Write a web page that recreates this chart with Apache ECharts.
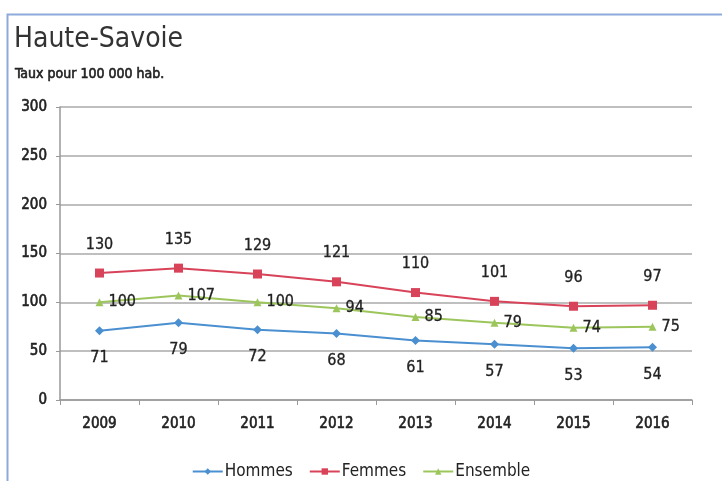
<!DOCTYPE html>
<html>
<head>
<meta charset="utf-8">
<script src="https://cdn.jsdelivr.net/npm/echarts@6/dist/echarts.min.js"></script>
<style>
  html, body { margin: 0; padding: 0; background: #fff; }
  #main { width: 722px; height: 481px; }
</style>
</head>
<body>
<div id="main"></div>
<script>
var years = ["2009", "2010", "2011", "2012", "2013", "2014", "2015", "2016"];
var hommes = [71, 79, 72, 68, 61, 57, 53, 54];
var femmes = [130, 135, 129, 121, 110, 101, 96, 97];
var ensemble = [100, 107, 100, 94, 85, 79, 74, 75];

var font = "'Liberation Sans Narrow', 'DejaVu Sans Condensed', 'Noto Sans', sans-serif";

var myChart = echarts.init(document.getElementById("main"));

// texte un peu gras (pas de gras en Narrow)
var boldish = { textBorderColor: "#222", textBorderWidth: 0.6 };

var option = {
  backgroundColor: "#fff",
  textStyle: { fontFamily: font },
  // cadre bleu du graphique
  graphic: [
    {
      type: "polyline",
      shape: { points: [[7.5, 481], [7.5, 14.5], [722, 14.5]] },
      style: { stroke: "#8eaadb", lineWidth: 2, fill: null },
      silent: true,
    },
  ],
  title: [
    {
      text: "Haute-Savoie",
      left: 14,
      top: 26,
      padding: 0,
      textStyle: { fontFamily: font, fontSize: 28, fontWeight: "normal", color: "#333" },
    },
    {
      text: "Taux pour 100 000 hab.",
      left: 15,
      top: 67,
      padding: 0,
      textStyle: Object.assign({ fontFamily: font, fontSize: 14, fontWeight: "normal", color: "#222" }, boldish),
    },
  ],
  legend: {
    top: 458,
    left: "center",
    itemWidth: 30,
    itemHeight: 8,
    itemGap: 16,
    textStyle: { fontFamily: font, fontSize: 17, color: "#222", padding: [0, 0, 0, -3] },
    data: ["Hommes", "Femmes", "Ensemble"],
  },
  grid: { left: 60, right: 30, top: 107, bottom: 81 },
  xAxis: {
    type: "category",
    data: years,
    boundaryGap: true,
    axisLine: { lineStyle: { color: "#999", width: 1.5 } },
    axisTick: { show: true, length: 5, lineStyle: { color: "#999" } },
    axisLabel: Object.assign({ fontFamily: font, fontSize: 15, color: "#222", margin: 17 }, boldish),
  },
  yAxis: {
    type: "value",
    min: 0,
    max: 300,
    interval: 50,
    axisLine: { show: true, lineStyle: { color: "#999", width: 1.5 } },
    axisTick: { show: true, length: 4, lineStyle: { color: "#999" } },
    axisLabel: Object.assign({ fontFamily: font, fontSize: 15, color: "#222", margin: 13 }, boldish),
    splitLine: { lineStyle: { color: "#aaa", width: 1.5 } },
  },
  series: [
    {
      name: "Hommes",
      type: "line",
      data: hommes,
      symbol: "diamond",
      symbolSize: 9,
      color: "#4a8fd0",
      lineStyle: { width: 2 },
      label: {
        show: true,
        position: "bottom",
        distance: 15,
        fontFamily: font,
        fontSize: 16,
        color: "#222",
        textBorderColor: "#222",
        textBorderWidth: 0.3,
      },
    },
    {
      name: "Femmes",
      type: "line",
      data: femmes,
      symbol: "rect",
      symbolSize: 9,
      color: "#d8435a",
      lineStyle: { width: 2 },
      label: {
        show: true,
        position: "top",
        distance: 16,
        fontFamily: font,
        fontSize: 16,
        color: "#222",
        textBorderColor: "#222",
        textBorderWidth: 0.3,
      },
    },
    {
      name: "Ensemble",
      type: "line",
      data: ensemble,
      symbol: "triangle",
      symbolSize: 8,
      color: "#9cc65c",
      lineStyle: { width: 2 },
      label: {
        show: true,
        position: "right",
        distance: 5,
        fontFamily: font,
        fontSize: 16,
        color: "#222",
        textBorderColor: "#222",
        textBorderWidth: 0.3,
      },
    },
  ],
};

myChart.setOption(option);
</script>
</body>
</html>
